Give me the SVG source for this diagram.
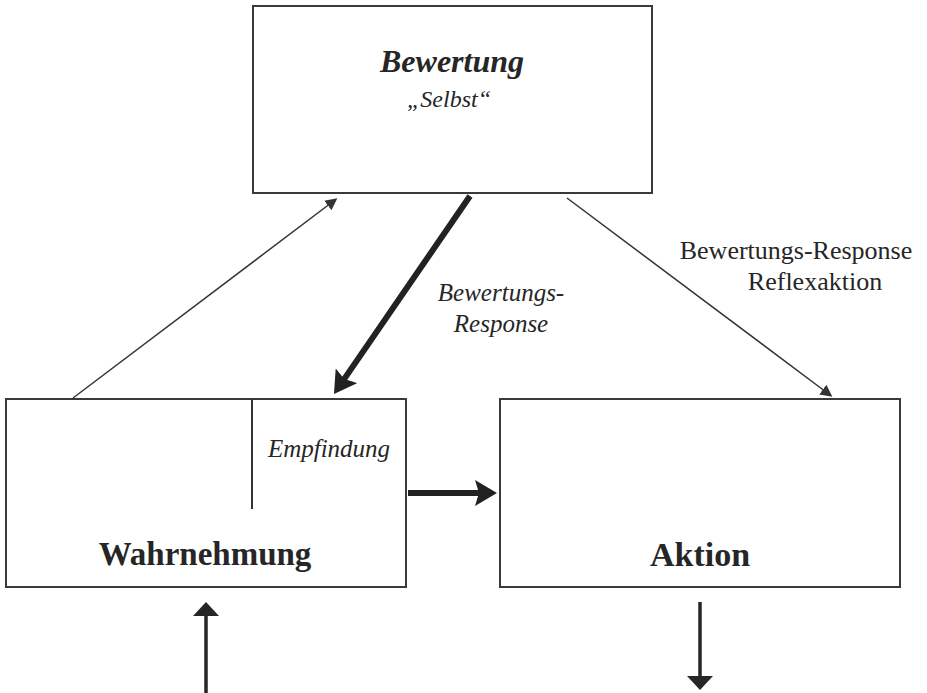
<svg xmlns="http://www.w3.org/2000/svg" width="927" height="693" viewBox="0 0 927 693">
  <style>
    .box { fill: #ffffff; stroke: #3a3a3a; stroke-width: 2; }
    .txt { font-family: "Liberation Serif", "Times New Roman", serif; fill: #262626; }
    .it { font-style: italic; }
    .bd { font-weight: bold; }
    .thin { stroke: #333333; stroke-width: 1.5; fill: none; }
    .thick { stroke: #222222; stroke-width: 6; fill: none; }
    .mid { stroke: #262626; stroke-width: 3.5; fill: none; }
  </style>
  <defs>
    <marker id="hThin" markerUnits="userSpaceOnUse" markerWidth="13" markerHeight="12" refX="4" refY="6" orient="auto">
      <path d="M0,0 L12,6 L0,12 Z" fill="#333333"/>
    </marker>
    <marker id="hThick" markerUnits="userSpaceOnUse" markerWidth="24" markerHeight="26" refX="8" refY="13" orient="auto">
      <path d="M0,0 L22,13 L0,26 L4,13 Z" fill="#222222"/>
    </marker>
    <marker id="hMid" markerUnits="userSpaceOnUse" markerWidth="16" markerHeight="26" refX="4" refY="13" orient="auto">
      <path d="M0,0 L14,13 L0,26 Z" fill="#262626"/>
    </marker>
  </defs>

  <g id="bewertung">
    <rect class="box" x="253" y="6" width="399" height="187"/>
    <text class="txt it bd" x="452" y="72" font-size="32" text-anchor="middle">Bewertung</text>
    <text class="txt it" x="449" y="107" font-size="24" text-anchor="middle">„Selbst“</text>
  </g>

  <g id="wahrnehmung">
    <rect class="box" x="6" y="399" width="400" height="188"/>
    <line x1="252" y1="399" x2="252" y2="509" stroke="#333333" stroke-width="2"/>
    <text class="txt it" x="329" y="457" font-size="25" text-anchor="middle">Empfindung</text>
    <text class="txt bd" x="205" y="565" font-size="33" text-anchor="middle">Wahrnehmung</text>
  </g>

  <g id="aktion">
    <rect class="box" x="500" y="399" width="400" height="188"/>
    <text class="txt bd" x="700" y="566" font-size="34" text-anchor="middle">Aktion</text>
  </g>

  <g id="connectors">
    <line class="thin" x1="73" y1="398" x2="331" y2="203" marker-end="url(#hThin)"/>
    <line class="thick" x1="470" y1="196" x2="341.9" y2="382.4" marker-end="url(#hThick)"/>
    <line class="thin" x1="567" y1="198" x2="826" y2="392" marker-end="url(#hThin)"/>
    <line class="thick" x1="408" y1="493" x2="483" y2="493" marker-end="url(#hThick)"/>
    <line class="mid" x1="206" y1="693" x2="206" y2="612" marker-end="url(#hMid)"/>
    <line class="mid" x1="700" y1="602" x2="700" y2="680" marker-end="url(#hMid)"/>
  </g>

  <g id="labels">
    <text class="txt it" x="501" y="301" font-size="25" text-anchor="middle">Bewertungs-</text>
    <text class="txt it" x="501" y="332" font-size="25" text-anchor="middle">Response</text>
    <text class="txt" x="796" y="259" font-size="26" text-anchor="middle">Bewertungs-Response</text>
    <text class="txt" x="815" y="290" font-size="26" text-anchor="middle">Reflexaktion</text>
  </g>
</svg>
